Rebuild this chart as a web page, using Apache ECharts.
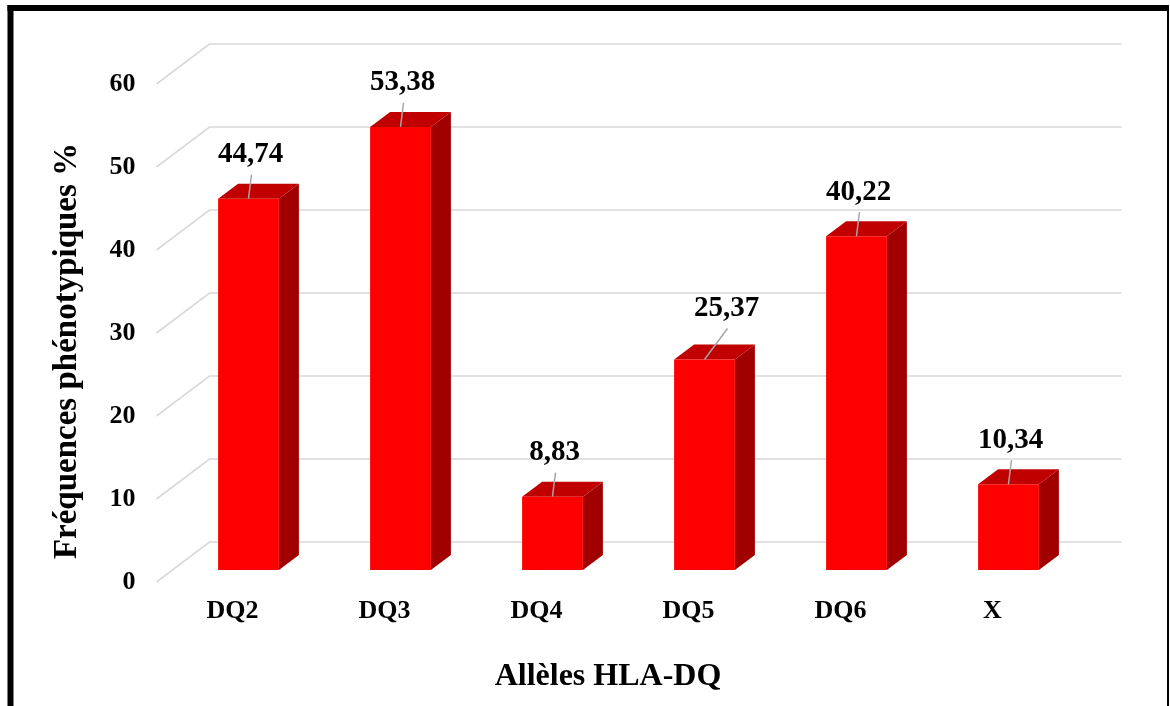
<!DOCTYPE html>
<html>
<head>
<meta charset="utf-8">
<script src="https://cdn.jsdelivr.net/npm/echarts@6/dist/echarts.min.js"></script>
<style>
html,body{margin:0;padding:0;background:#fff;}
#chart{width:1170px;height:706px;}
</style>
</head>
<body>
<div id="chart"></div>
<script>
var categories = ['DQ2', 'DQ3', 'DQ4', 'DQ5', 'DQ6', 'X'];
var values = [44.74, 53.38, 8.83, 25.37, 40.22, 10.34];
var yTicks = [0, 10, 20, 30, 40, 50, 60];
var yTitle = 'Fréquences phénotypiques %';
var xTitle = 'Allèles HLA-DQ';

var FONT = "'Liberation Serif', 'Times New Roman', serif";
// 3D projection (pixels)
var WALL_DX = 53, WALL_DY = -40;   // back wall offset from front floor edge
var BAR_OX = 16, BAR_OY = -12;     // bar front face offset from front edge
var BAR_DX = 20, BAR_DY = -15;     // bar depth
// label placement tweaks (style only), keyed by category
var LABEL_NUDGE = { DQ5: [20, -7] };

var chart = echarts.init(document.getElementById('chart'));

function fmt(v) { return v.toFixed(2).replace('.', ','); }

var option = {
  backgroundColor: '#fff',
  animation: false,
  grid: { left: 156.5, right: 101.5, top: 84, bottom: 124, containLabel: false, outerBoundsMode: 'none' },
  xAxis: {
    type: 'category',
    data: categories,
    axisLine: { show: false },
    axisTick: { show: false },
    axisLabel: { margin: 16, fontFamily: FONT, fontWeight: 'bold', fontSize: 26, color: '#000' },
    splitLine: { show: false }
  },
  yAxis: {
    type: 'value',
    min: 0, max: 60, interval: 10,
    axisLine: { show: false },
    axisTick: { show: false },
    splitLine: { show: false },
    axisLabel: { margin: 21, fontFamily: FONT, fontWeight: 'bold', fontSize: 26, color: '#000' }
  },
  graphic: [
    { type: 'line', shape: { x1: 10.5, y1: 5, x2: 10.5, y2: 710 }, style: { stroke: '#000', lineWidth: 6 }, z: 100 },
    { type: 'line', shape: { x1: 7.5, y1: 8, x2: 1169, y2: 8 }, style: { stroke: '#000', lineWidth: 6 }, z: 100 },
    { type: 'line', shape: { x1: 1168, y1: 5, x2: 1168, y2: 710 }, style: { stroke: '#000', lineWidth: 2 }, z: 100 },
    { type: 'text', x: 67, y: 351, rotation: Math.PI / 2,
      style: { text: yTitle, fontFamily: FONT, fontWeight: 'bold', fontSize: 33, fill: '#000', align: 'center', verticalAlign: 'middle' } },
    { type: 'text', x: 608, y: 677,
      style: { text: xTitle, fontFamily: FONT, fontWeight: 'bold', fontSize: 32, fill: '#000', align: 'center', verticalAlign: 'middle' } }
  ],
  series: [
    {
      type: 'custom',
      z: 1,
      silent: true,
      data: yTicks.map(function (t) { return [0, t]; }),
      renderItem: function (params, api) {
        var cs = params.coordSys;
        var y = api.coord([0, api.value(1)])[1];
        var x0 = cs.x;
        return {
          type: 'polyline',
          shape: { points: [[x0, y], [x0 + WALL_DX, y + WALL_DY], [x0 + cs.width + WALL_DX, y + WALL_DY]] },
          style: { stroke: '#d9d9d9', lineWidth: 1.6, fill: null }
        };
      }
    },
    {
      type: 'custom',
      z: 2,
      data: values.map(function (v, i) { return [i, v]; }),
      renderItem: function (params, api) {
        var i = api.value(0), v = api.value(1);
        var p0 = api.coord([i, 0]);
        var p1 = api.coord([i, v]);
        var bw = api.size([1, 0])[0] * 0.4;
        var cx = p0[0] + BAR_OX;
        var l = cx - bw / 2, r = cx + bw / 2;
        var yb = p0[1] + BAR_OY, yt = p1[1] + BAR_OY;
        var nudge = LABEL_NUDGE[categories[i]] || [0, 0];
        var lx = cx + 2 + nudge[0], ly = yt - 44 + nudge[1];
        return {
          type: 'group',
          children: [
            { type: 'polygon', shape: { points: [[r, yt], [r + BAR_DX, yt + BAR_DY], [r + BAR_DX, yb + BAR_DY], [r, yb]] },
              style: { fill: '#a00000' } },
            { type: 'polygon', shape: { points: [[l, yt], [r, yt], [r + BAR_DX, yt + BAR_DY], [l + BAR_DX, yt + BAR_DY]] },
              style: { fill: '#c00000' } },
            { type: 'rect', shape: { x: l, y: yt, width: bw, height: yb - yt },
              style: { fill: '#ff0000' } },
            { type: 'line', shape: { x1: cx, y1: yt, x2: lx + 1, y2: ly + 20 },
              style: { stroke: '#a6a6a6', lineWidth: 1.5 } },
            { type: 'text', x: lx, y: ly,
              style: { text: fmt(v), fontFamily: FONT, fontWeight: 'bold', fontSize: 29, fill: '#000', align: 'center', verticalAlign: 'middle' } }
          ]
        };
      }
    }
  ]
};
chart.setOption(option);
</script>
</body>
</html>
